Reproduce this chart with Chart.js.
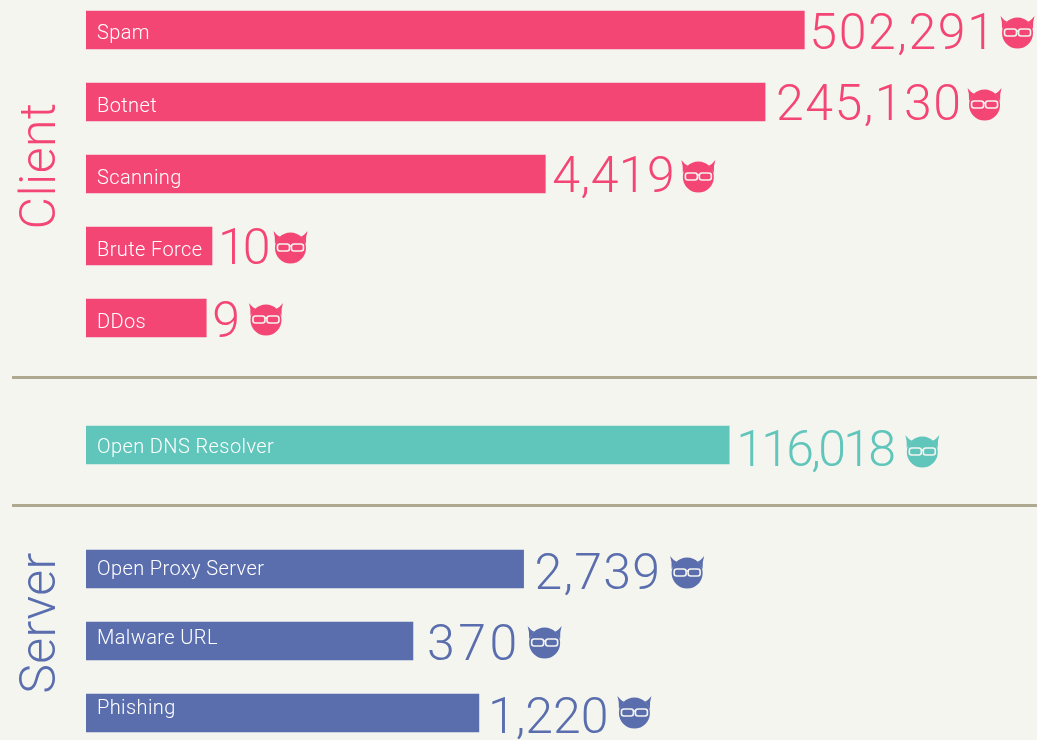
<!DOCTYPE html>
<html>
<head>
<meta charset="utf-8">
<title>Threat categories</title>
<script src="https://cdn.jsdelivr.net/npm/chart.js@4"></script>
<style>
  html, body { margin: 0; height: 100%; overflow: hidden; background: #f5f5f0; }
  canvas { position: absolute; left: 0; }
  .rule { position: absolute; left: 12px; right: 0; height: 3px; background: #aea990; }
</style>
</head>
<body>
<canvas id="chart-client" width="1037" height="360" style="top:-6px"></canvas>
<div class="rule" style="top:376px"></div>
<canvas id="chart-dns" width="1037" height="72" style="top:409px"></canvas>
<div class="rule" style="top:504px"></div>
<canvas id="chart-server" width="1037" height="216" style="top:533px"></canvas>
<script>
var clientLabels = ['Spam', 'Botnet', 'Scanning', 'Brute Force', 'DDos'];
var clientValues = [502291, 245130, 4419, 10, 9];
var dnsLabels = ['Open DNS Resolver'];
var dnsValues = [116018];
var serverLabels = ['Open Proxy Server', 'Malware URL', 'Phishing'];
var serverValues = [2739, 370, 1220];

var PINK = '#f44674';
var TEAL = '#60c5ba';
var BLUE = '#5a6eae';
var BG = '#f5f5f0';
var FONT = 'Roboto, "Noto Sans", sans-serif';

// little devil with glasses, cx/cy is the middle of the head
function drawDevil(ctx, cx, cy, color) {
  ctx.save();
  ctx.fillStyle = color;
  ctx.beginPath();
  ctx.arc(cx, cy, 15.5, 0, Math.PI * 2);
  ctx.fill();
  [-1, 1].forEach(function (s) {
    ctx.beginPath();
    ctx.moveTo(cx + s * 15.5, cy - 4);
    ctx.quadraticCurveTo(cx + s * 15, cy - 11, cx + s * 17, cy - 17);
    ctx.quadraticCurveTo(cx + s * 13, cy - 12, cx + s * 10.5, cy - 11.5);
    ctx.closePath();
    ctx.fill();
  });
  ctx.strokeStyle = BG;
  ctx.lineWidth = 1.6;
  ctx.beginPath();
  ctx.roundRect(cx - 13, cy - 4, 12, 7, 2.5);
  ctx.roundRect(cx + 1, cy - 4, 12, 7, 2.5);
  ctx.moveTo(cx - 1, cy - 2);
  ctx.lineTo(cx + 1, cy - 2);
  ctx.stroke();
  ctx.restore();
}

var barText = {
  id: 'barText',
  afterDatasetsDraw: function (chart, args, opts) {
    var ctx = chart.ctx;
    var values = chart.data.datasets[0].data;
    var bars = chart.getDatasetMeta(0).data;
    ctx.save();
    ctx.textAlign = 'left';
    ctx.textBaseline = 'alphabetic';
    bars.forEach(function (bar, i) {
      ctx.fillStyle = '#ffffff';
      ctx.font = '300 20px ' + FONT;
      ctx.letterSpacing = '0.4px';
      ctx.fillText(chart.data.labels[i], chart.chartArea.left + 11, bar.y + opts.labelDy[i]);

      var txt = values[i].toLocaleString('en-US');
      var tx = bar.x + opts.valueGap[i];
      ctx.fillStyle = opts.color;
      ctx.font = '300 50px ' + FONT;
      ctx.letterSpacing = opts.valueSpacing[i] + 'px';
      ctx.fillText(txt, tx, bar.y + opts.valueDy[i]);
      var w = ctx.measureText(txt).width;
      drawDevil(ctx, tx + w + opts.iconGap[i] + 17, bar.y + opts.iconDy[i], opts.color);
    });
    if (opts.title) {
      ctx.translate(55, chart.chartArea.top + chart.chartArea.height / 2 + opts.titleShift);
      ctx.rotate(-Math.PI / 2);
      ctx.textAlign = 'center';
      ctx.fillStyle = opts.color;
      ctx.font = '300 50px ' + FONT;
      ctx.letterSpacing = '0.4px';
      ctx.fillText(opts.title, 0, 0);
    }
    ctx.restore();
  }
};

function renderGroup(id, labels, values, color, xMax, textOpts) {
  textOpts.color = color;
  new Chart(document.getElementById(id), {
    type: 'bar',
    data: {
      labels: labels,
      datasets: [{ data: values, backgroundColor: color, barThickness: 38 }]
    },
    options: {
      indexAxis: 'y',
      responsive: false,
      animation: false,
      layout: { padding: { left: 86, right: 0, top: 0, bottom: 0 } },
      plugins: {
        legend: { display: false },
        tooltip: { enabled: false },
        barText: textOpts
      },
      scales: {
        x: { type: 'logarithmic', min: 1, max: xMax, display: false },
        y: { display: false }
      }
    },
    plugins: [barText]
  });
}

renderGroup('chart-client', clientLabels, clientValues, PINK, Math.pow(10, 951 / 126), {
  title: 'Client', titleShift: -8,
  labelDy: [9, 10, 10, 10, 10],
  valueGap: [5, 11, 7, 6, 6],
  valueSpacing: [1.6, 1.5, 0.5, -3, 0],
  valueDy: [19, 18, 18, 18, 19],
  iconGap: [4, 5, 6, 6, 9],
  iconDy: [3, 3, 3, 2, 2]
});
renderGroup('chart-dns', dnsLabels, dnsValues, TEAL, Math.pow(10, 951 / 127), {
  title: '', titleShift: 0,
  labelDy: [8],
  valueGap: [7],
  valueSpacing: [-2.7],
  valueDy: [21],
  iconGap: [12],
  iconDy: [7]
});
renderGroup('chart-server', serverLabels, serverValues, BLUE, Math.pow(10, 951 / 127.3), {
  title: 'Server', titleShift: -18,
  labelDy: [6, 3, 1],
  valueGap: [11, 14, 9],
  valueSpacing: [1.2, 3.5, 0],
  valueDy: [20, 19, 20],
  iconGap: [9, 7, 9],
  iconDy: [4, 2, 0]
});
</script>
</body>
</html>
